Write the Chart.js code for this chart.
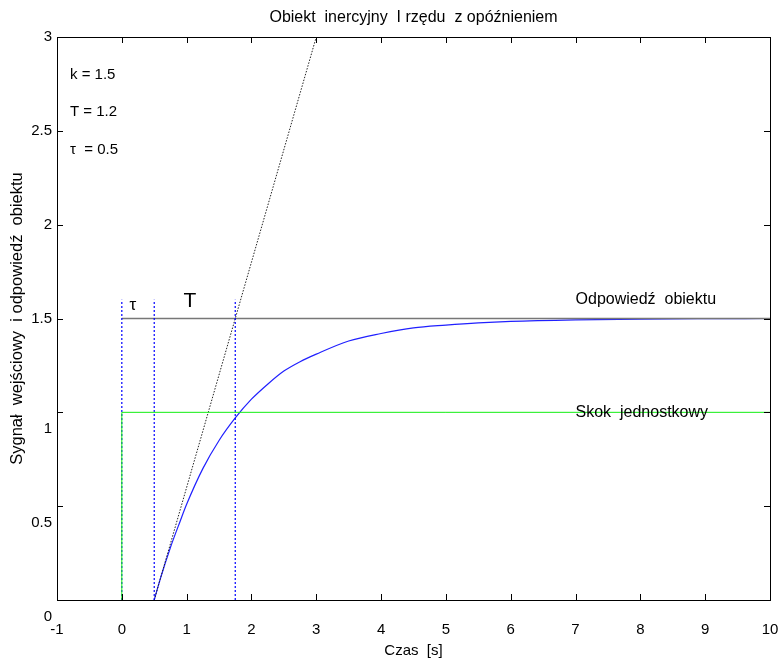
<!DOCTYPE html>
<html>
<head>
<meta charset="utf-8">
<script src="https://cdn.jsdelivr.net/npm/chart.js@4"></script>
<style>
 html, body { margin: 0; padding: 0; background: #fff; overflow: hidden; }
 #wrap { width: 779px; height: 661px; }
</style>
</head>
<body>
<div id="wrap"><canvas id="chart"></canvas></div>
<script>
// values
const xTicks = [-1, 0, 1, 2, 3, 4, 5, 6, 7, 8, 9, 10];
const yTicks = [0, 0.5, 1, 1.5, 2, 2.5, 3];

const respT = [0.5, 0.6, 0.75, 0.9, 1.0, 1.25, 1.5, 1.75, 2.0, 2.25, 2.5, 2.75, 3.0, 3.5, 4.0, 4.5, 5.0, 5.5, 6.0, 7.0, 8.0, 9.0, 10.0];
const respY = [0, 0.12, 0.28, 0.42, 0.51, 0.70, 0.85, 0.97, 1.07, 1.15, 1.22, 1.27, 1.31, 1.38, 1.42, 1.45, 1.465, 1.477, 1.485, 1.493, 1.497, 1.499, 1.5];

const stepT = [0, 0, 10];
const stepY = [0, 1, 1];

const finalT = [0, 10];
const finalY = [1.5, 1.5];

const tangentT = [0.5, 3.0];
const tangentY = [0, 3.0];

const markerT = [0, 0.5, 1.75];
const markerTop = 1.6;

const titleText = 'Obiekt  inercyjny  I rzędu  z opóźnieniem';

const notes = [
 { t: -0.8, y: 2.8, text: 'k = 1.5', size: 15 },
 { t: -0.8, y: 2.6, text: 'T = 1.2', size: 15 },
 { t: -0.8, y: 2.4, text: 'τ  = 0.5', size: 15 },
 { t: 0.12, y: 1.57, text: 'τ', size: 17 },
 { t: 0.95, y: 1.59, text: 'T', size: 21 },
 { t: 7.0, y: 1.6, text: 'Odpowiedź  obiektu', size: 16 },
 { t: 7.0, y: 1.0, text: 'Skok  jednostkowy', size: 16 }
];

const FONT = '"Liberation Sans", Arial, sans-serif';

function pts(xs, ys) {
 return xs.map((x, i) => ({ x: x, y: ys[i] }));
}

const datasets = [];
datasets.push({
 data: pts(stepT, stepY),
 borderColor: '#11ee11', borderWidth: 1, pointRadius: 0
});
markerT.forEach(t => {
 datasets.push({
  data: pts([t, t], [0, markerTop]),
  borderColor: '#0000ff', borderWidth: 1.2, borderDash: [2, 2], pointRadius: 0
 });
});
datasets.push({
 data: pts(finalT, finalY),
 borderColor: '#777777', borderWidth: 1.5, pointRadius: 0
});
datasets.push({
 data: pts(tangentT, tangentY),
 borderColor: '#222222', borderWidth: 1, borderDash: [1.5, 1.5], pointRadius: 0
});
datasets.push({
 data: pts(respT, respY),
 borderColor: '#2020ff', borderWidth: 1.2, pointRadius: 0,
 cubicInterpolationMode: 'monotone'
});

const framePlugin = {
 id: 'frame',
 afterDraw(chart) {
  const ctx = chart.ctx;
  const a = chart.chartArea;
  const xs = chart.scales.x, ys = chart.scales.y;
  ctx.save();
  ctx.strokeStyle = '#000';
  ctx.lineWidth = 1;
  ctx.strokeRect(Math.round(a.left) + 0.5, Math.round(a.top) + 0.5,
   Math.round(a.right - a.left), Math.round(a.bottom - a.top));
  ctx.beginPath();
  xTicks.forEach(v => {
   const px = Math.round(xs.getPixelForValue(v)) + 0.5;
   ctx.moveTo(px, a.bottom); ctx.lineTo(px, a.bottom - 6);
   ctx.moveTo(px, a.top); ctx.lineTo(px, a.top + 6);
  });
  yTicks.forEach(v => {
   const py = Math.round(ys.getPixelForValue(v)) + 0.5;
   ctx.moveTo(a.left, py); ctx.lineTo(a.left + 6, py);
   ctx.moveTo(a.right, py); ctx.lineTo(a.right - 6, py);
  });
  ctx.stroke();

  ctx.fillStyle = '#000';
  ctx.textBaseline = 'middle';

  // title, centred over the plot box
  ctx.textAlign = 'center';
  ctx.font = '16px ' + FONT;
  ctx.fillText(titleText, (a.left + a.right) / 2, 18);

  // y tick labels (the lower ones sit a bit low in the original)
  ctx.font = '15px ' + FONT;
  ctx.textAlign = 'right';
  yTicks.forEach(v => {
   const off = v <= 1 ? 17 : 0;
   ctx.fillText(String(v), a.left - 5, ys.getPixelForValue(v) + off);
  });

  // annotations
  ctx.textAlign = 'left';
  notes.forEach(n => {
   ctx.font = n.size + 'px ' + FONT;
   ctx.fillText(n.text, xs.getPixelForValue(n.t), ys.getPixelForValue(n.y));
  });
  ctx.restore();
 }
};

new Chart(document.getElementById('chart'), {
 type: 'line',
 data: { datasets: datasets },
 options: {
  responsive: true,
  maintainAspectRatio: false,
  animation: false,
  layout: { padding: { left: 0, right: 9, top: 37, bottom: 0 } },
  plugins: {
   legend: { display: false },
   tooltip: { enabled: false },
   title: { display: false }
  },
  scales: {
   x: {
    type: 'linear',
    min: -1, max: 10,
    afterBuildTicks: s => { s.ticks = xTicks.map(v => ({ value: v })); },
    afterFit: s => { s.height = 61; s.paddingLeft = 0; s.paddingRight = 0; },
    grid: { display: false, drawTicks: false },
    border: { display: false },
    ticks: { color: '#000', padding: 21, maxRotation: 0, font: { family: FONT, size: 15 } },
    title: {
     display: true, text: 'Czas  [s]', color: '#000',
     font: { family: FONT, size: 15 }, padding: { top: 0, bottom: 1 }
    }
   },
   y: {
    type: 'linear',
    min: 0, max: 3,
    afterBuildTicks: s => { s.ticks = yTicks.map(v => ({ value: v })); },
    afterFit: s => { s.width = 57; s.paddingTop = 0; s.paddingBottom = 0; },
    grid: { display: false, drawTicks: false },
    border: { display: false },
    ticks: { display: false },
    title: {
     display: true, text: 'Sygnał  wejściowy  i odpowiedź  obiektu', color: '#000',
     font: { family: FONT, size: 16.5 }, padding: { top: 8, bottom: 0 }
    }
   }
  }
 },
 plugins: [framePlugin]
});
</script>
</body>
</html>
